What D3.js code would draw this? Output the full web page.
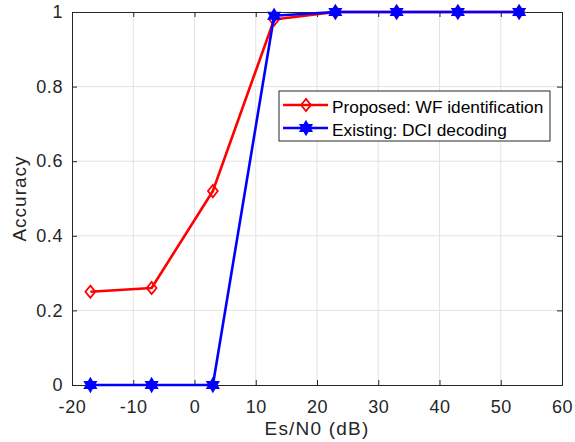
<!DOCTYPE html>
<html>
<head>
<meta charset="utf-8">
<script src="https://cdn.jsdelivr.net/npm/d3@7"></script>
<style>
  html, body { margin: 0; padding: 0; background: #fff; }
  svg { display: block; font-family: "Liberation Sans", Arial, Helvetica, sans-serif; }
</style>
</head>
<body>
<svg id="chart" width="575" height="442"></svg>
<script>
// Signal-to-noise points (dB)
const snr = [-17, -7, 3, 13, 23, 33, 43, 53];
// Identification accuracy for each method
const proposed = [0.25, 0.26, 0.52, 0.98, 1, 1, 1, 1];
const existing = [0, 0, 0, 0.99, 1, 1, 1, 1];
const seriesNames = ["Proposed: WF identification", "Existing: DCI decoding"];
const xTicks = [-20, -10, 0, 10, 20, 30, 40, 50, 60];
const yTicks = [0, 0.2, 0.4, 0.6, 0.8, 1];

const svg = d3.select("#chart");
const margin = { left: 72, right: 13, top: 12, bottom: 57 };
const W = 575, H = 442;
const x = d3.scaleLinear().domain([-20, 60]).range([margin.left, W - margin.right]);
const y = d3.scaleLinear().domain([0, 1]).range([H - margin.bottom, margin.top]);

const axisColor = "#262626";
const gridColor = "#e3e3e3";

// grid
const grid = svg.append("g");
grid.selectAll("line.vx").data(xTicks.slice(1, -1)).join("line")
  .attr("x1", d => x(d)).attr("x2", d => x(d))
  .attr("y1", y(0)).attr("y2", y(1))
  .attr("stroke", gridColor).attr("stroke-width", 1);
grid.selectAll("line.hy").data(yTicks.slice(1, -1)).join("line")
  .attr("y1", d => y(d)).attr("y2", d => y(d))
  .attr("x1", x(-20)).attr("x2", x(60))
  .attr("stroke", gridColor).attr("stroke-width", 1);

// axes (plain hyphen for negatives)
const fmtX = d => String(d);
const fmtY = d => (d === 0 || d === 1) ? String(d) : d3.format(".1f")(d);
const xAxis = d3.axisBottom(x).tickValues(xTicks).tickSize(-5).tickPadding(15).tickFormat(fmtX);
const yAxis = d3.axisLeft(y).tickValues(yTicks).tickSize(-5).tickPadding(9).tickFormat(fmtY);
const xTop = d3.axisTop(x).tickValues(xTicks).tickSize(-5).tickFormat("");
const yRight = d3.axisRight(y).tickValues(yTicks).tickSize(-5).tickFormat("");

function styleAxis(g) {
  g.select(".domain").attr("stroke", axisColor).attr("stroke-width", 1);
  g.selectAll(".tick line").attr("stroke", axisColor);
  g.selectAll(".tick text").attr("fill", axisColor).attr("font-size", 18)
    .attr("letter-spacing", 0.6)
    .attr("font-family", "Liberation Sans, Arial, sans-serif");
}
svg.append("g").attr("transform", `translate(0,${y(0)})`).call(xAxis).call(styleAxis);
svg.append("g").attr("transform", `translate(${x(-20)},0)`).call(yAxis).call(styleAxis);
svg.append("g").attr("transform", `translate(0,${y(1)})`).call(xTop).call(styleAxis);
svg.append("g").attr("transform", `translate(${x(60)},0)`).call(yRight).call(styleAxis);

// axis titles
svg.append("text")
  .attr("x", (x(-20) + x(60)) / 2).attr("y", 435)
  .attr("text-anchor", "middle").attr("font-size", 19).attr("letter-spacing", 1.2)
  .attr("fill", axisColor)
  .text("Es/N0 (dB)");
svg.append("text")
  .attr("transform", `translate(26,${(y(0) + y(1)) / 2}) rotate(-90)`)
  .attr("text-anchor", "middle").attr("font-size", 19).attr("letter-spacing", 1)
  .attr("fill", axisColor)
  .text("Accuracy");

// marker shapes
const hexagram = {
  draw(ctx, size) {
    const r = Math.sqrt(size) * 0.62, ri = r * 0.58;
    for (let i = 0; i < 12; i++) {
      const a = -Math.PI / 2 + i * Math.PI / 6;
      const rr = i % 2 === 0 ? r : ri;
      const px = rr * Math.cos(a), py = rr * Math.sin(a);
      if (i === 0) ctx.moveTo(px, py); else ctx.lineTo(px, py);
    }
    ctx.closePath();
  }
};
const diamond = {
  draw(ctx, size) {
    const h = Math.sqrt(size) * 0.6, w = h * 0.8;
    ctx.moveTo(0, -h); ctx.lineTo(w, 0); ctx.lineTo(0, h); ctx.lineTo(-w, 0); ctx.closePath();
  }
};

const line = d3.line().x(d => x(d[0])).y(d => y(d[1]));
const series = [
  { name: seriesNames[0], values: proposed, color: "#ff0000", symbol: diamond, fill: "none" },
  { name: seriesNames[1], values: existing, color: "#0000ff", symbol: hexagram, fill: "#0000ff" }
];

const plot = svg.append("g");
series.forEach(s => {
  const pts = snr.map((v, i) => [v, s.values[i]]);
  plot.append("path").datum(pts).attr("d", line)
    .attr("fill", "none").attr("stroke", s.color).attr("stroke-width", 2.6)
    .attr("stroke-linejoin", "round");
  plot.selectAll(null).data(pts).join("path")
    .attr("transform", d => `translate(${x(d[0])},${y(d[1])})`)
    .attr("d", d3.symbol().type(s.symbol).size(105))
    .attr("fill", s.fill).attr("stroke", s.color).attr("stroke-width", 1.8);
});

// legend
const lg = svg.append("g").attr("transform", "translate(279,91)");
lg.append("rect").attr("width", 271).attr("height", 50)
  .attr("fill", "#fff").attr("stroke", axisColor).attr("stroke-width", 1);
series.forEach((s, i) => {
  const cy = 14 + i * 23;
  lg.append("line").attr("x1", 4).attr("x2", 49).attr("y1", cy).attr("y2", cy)
    .attr("stroke", s.color).attr("stroke-width", 2.6);
  lg.append("path").attr("transform", `translate(27,${cy})`)
    .attr("d", d3.symbol().type(s.symbol).size(105))
    .attr("fill", s.fill).attr("stroke", s.color).attr("stroke-width", 1.8);
  lg.append("text").attr("x", 53).attr("y", cy + 7.5)
    .attr("font-size", 17.3).attr("fill", "#000").text(s.name);
});
</script>
</body>
</html>
